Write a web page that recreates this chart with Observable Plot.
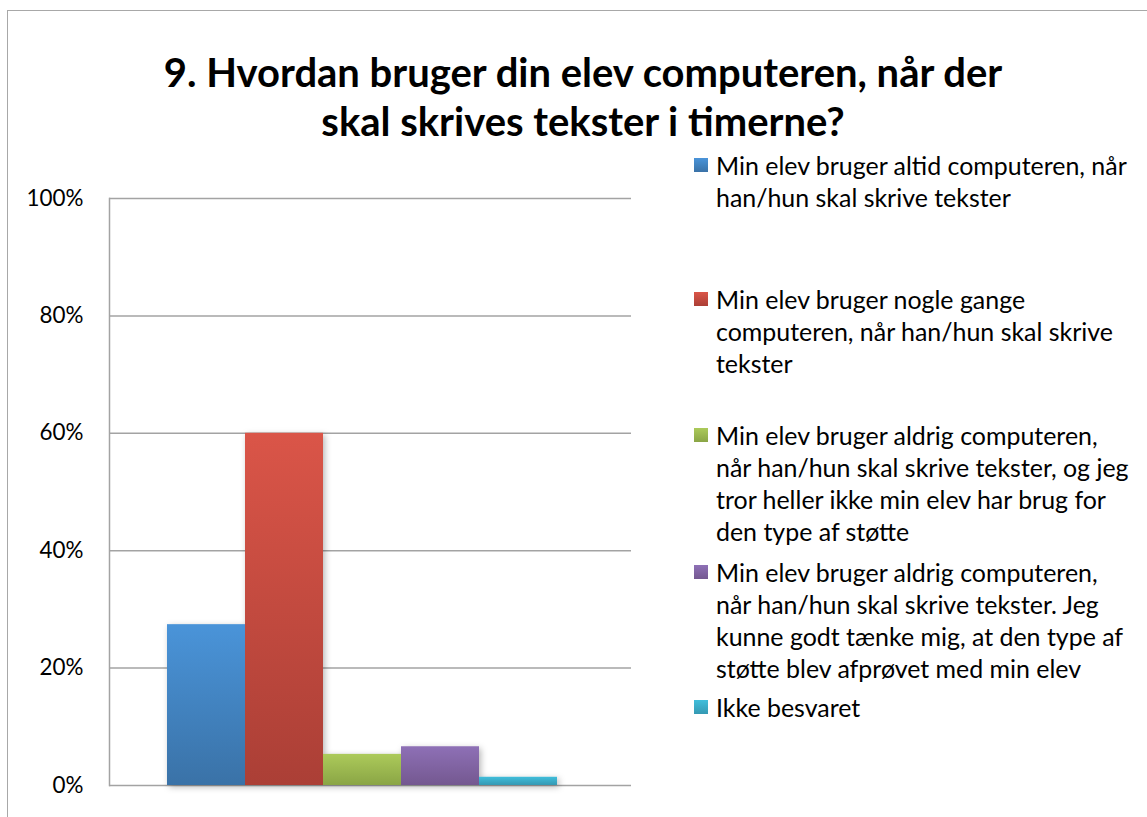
<!DOCTYPE html>
<html><head><meta charset="utf-8">
<script src="https://cdn.jsdelivr.net/npm/d3@7"></script>
<script src="https://cdn.jsdelivr.net/npm/@observablehq/plot@0.6"></script>
<style>
body{margin:0;background:#fff;}
#wrap{position:relative;width:1147px;height:817px;overflow:hidden;background:#fff;}
#border{position:absolute;left:7px;top:10px;width:1300px;height:1000px;border:1.5px solid #a8a8a8;box-sizing:border-box;}
#title{position:absolute;left:0;width:1166px;top:48px;text-align:center;font-weight:bold;color:#000;line-height:49px;white-space:nowrap;}
#chart{position:absolute;left:0;top:150px;}
.entry{position:absolute;left:694px;}
.entry .sw{position:absolute;left:0;width:14px;height:14px;}
.entry .tx{position:absolute;left:22px;white-space:nowrap;color:#000;line-height:32px;}
</style></head>
<body><div id="wrap"><div id="border"></div><div id="title"></div><div id="chart"></div><div id="legend"></div></div>
<script>
const FONT = "Lato";
const titleLines = ["9. Hvordan bruger din elev computeren, når der", "skal skrives tekster i timerne?"];
const series = [
  "Min elev bruger altid computeren, når han/hun skal skrive tekster",
  "Min elev bruger nogle gange computeren, når han/hun skal skrive tekster",
  "Min elev bruger aldrig computeren, når han/hun skal skrive tekster, og jeg tror heller ikke min elev har brug for den type af støtte",
  "Min elev bruger aldrig computeren, når han/hun skal skrive tekster. Jeg kunne godt tænke mig, at den type af støtte blev afprøvet med min elev",
  "Ikke besvaret"
];
const legendLines = [
  ["Min elev bruger altid computeren, når", "han/hun skal skrive tekster"],
  ["Min elev bruger nogle gange", "computeren, når han/hun skal skrive", "tekster"],
  ["Min elev bruger aldrig computeren,", "når han/hun skal skrive tekster, og jeg", "tror heller ikke min elev har brug for", "den type af støtte"],
  ["Min elev bruger aldrig computeren,", "når han/hun skal skrive tekster. Jeg", "kunne godt tænke mig, at den type af", "støtte blev afprøvet med min elev"],
  ["Ikke besvaret"]
];
const values = [0.274, 0.600, 0.053, 0.066, 0.014];
const yTicks = [0, 0.2, 0.4, 0.6, 0.8, 1];
const topColors = ["#4a94d9", "#da5548", "#acca5a", "#8e70b6", "#40bedb"];
const bottomColors = ["#3a72a7", "#ab3f36", "#8aa545", "#745890", "#3599b3"];

const ctx = document.createElement("canvas").getContext("2d");
function fit(text, weight, target) {
  ctx.font = `${weight} 100px ${FONT}`;
  return 100 * target / ctx.measureText(text).width;
}
const titleSize = fit(titleLines[0], "bold", 841);
const legendSize = fit(legendLines[0][0], "normal", 412);
const tickSize = fit("100%", "normal", 57);

const title = document.getElementById("title");
title.style.fontFamily = FONT;
title.style.fontSize = titleSize + "px";
title.innerHTML = titleLines.map(t => `<div>${t}</div>`).join("");

const data = series.map((s, i) => ({series: s, value: values[i], grad: `url(#grad${i})`}));

const plot = Plot.plot({
  width: 650, height: 667,
  marginLeft: 109, marginRight: 19, marginTop: 48, marginBottom: 32,
  style: {fontFamily: FONT, fontSize: tickSize + "px", color: "#000", background: "transparent", overflow: "visible"},
  x: {type: "band", domain: series, paddingInner: 0, paddingOuter: 0.846, align: 0.44, axis: null},
  y: {domain: [0, 1]},
  color: {type: "identity"},
  marks: [
    Plot.ruleY(yTicks, {stroke: "#a3a3a3", strokeWidth: 1.5}),
    Plot.frame({anchor: "left", stroke: "#a3a3a3", strokeWidth: 1.5}),
    Plot.barY(data, {x: "series", y: "value", fill: "grad"}),
    Plot.axisY(yTicks, {tickSize: 0, tickPadding: 26, tickFormat: d3.format(".0%"), label: null, fill: "#000"})
  ]
});
const svg = d3.select(plot);
const defs = svg.insert("defs", ":first-child");
topColors.forEach((c, i) => {
  const g = defs.append("linearGradient").attr("id", `grad${i}`)
    .attr("x1", 0).attr("y1", 0).attr("x2", 0).attr("y2", 1);
  g.append("stop").attr("offset", "0%").attr("stop-color", c);
  g.append("stop").attr("offset", "100%").attr("stop-color", bottomColors[i]);
});
svg.selectAll("g[aria-label='bar']").style("filter", "drop-shadow(2px 2px 3px rgba(0,0,0,0.28))");
document.getElementById("chart").appendChild(plot);

const baselines = [173, 307, 443, 580, 715];
const legend = document.getElementById("legend");
legendLines.forEach((lines, i) => {
  const e = document.createElement("div");
  e.className = "entry";
  e.style.top = (baselines[i] - 24.5) + "px";
  const sw = document.createElement("div");
  sw.className = "sw";
  sw.style.top = "9.5px";
  sw.style.background = `linear-gradient(${topColors[i]}, ${bottomColors[i]})`;
  const tx = document.createElement("div");
  tx.className = "tx";
  tx.style.top = "0px";
  tx.style.fontFamily = FONT;
  tx.style.fontSize = legendSize + "px";
  tx.innerHTML = lines.join("<br>");
  e.appendChild(sw); e.appendChild(tx);
  legend.appendChild(e);
});
</script>
</body></html>
